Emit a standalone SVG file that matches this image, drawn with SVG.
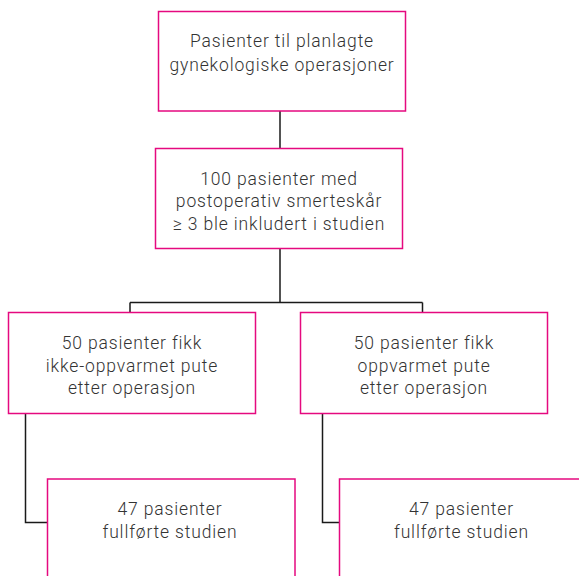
<svg xmlns="http://www.w3.org/2000/svg" width="579" height="576" viewBox="0 0 579 576">
<style>
.box{fill:#fff;stroke:#e5097f;stroke-width:1.5}
.t{font-family:Roboto,"Liberation Sans",sans-serif;font-size:17.5px;font-weight:300;fill:#333;text-anchor:middle;letter-spacing:0.85px}
.c{fill:none;stroke:#1a1a1a;stroke-width:1.5}
</style>
<rect width="579" height="576" fill="#fff"/>
<g id="connectors">
<path class="c" d="M280 111V148.5"/>
<path class="c" d="M280 248.5V302.5M130 302.5H422.5M130 302.5V312.5M422.5 302.5V312.5"/>
<path class="c" d="M25.5 413.5V522.5H47.5"/>
<path class="c" d="M322.5 413.5V522.5H339.5"/>
</g>
<g id="n1">
<rect class="box" x="158.5" y="11.5" width="247" height="99.5"/>
<text class="t" x="282" y="47">Pasienter til planlagte</text>
<text class="t" x="282" y="71">gynekologiske operasjoner</text>
</g>
<g id="n2">
<rect class="box" x="155.5" y="148.5" width="247" height="100"/>
<text class="t" x="279" y="184.5">100 pasienter med</text>
<text class="t" x="279" y="207">postoperativ smerteskår</text>
<text class="t" x="279" y="230">≥ 3 ble inkludert i studien</text>
</g>
<g id="n3">
<rect class="box" x="8.5" y="312.5" width="247" height="101"/>
<text class="t" x="132" y="348.5">50 pasienter fikk</text>
<text class="t" x="132" y="371.5">ikke-oppvarmet pute</text>
<text class="t" x="132" y="393.5">etter operasjon</text>
</g>
<g id="n4">
<rect class="box" x="300.5" y="312.5" width="247" height="101"/>
<text class="t" x="424" y="348.5">50 pasienter fikk</text>
<text class="t" x="424" y="371.5">oppvarmet pute</text>
<text class="t" x="424" y="393.5">etter operasjon</text>
</g>
<g id="n5">
<rect class="box" x="47.5" y="479" width="247.5" height="110"/>
<text class="t" x="170" y="515">47 pasienter</text>
<text class="t" x="170" y="538">fullførte studien</text>
</g>
<g id="n6">
<rect class="box" x="339.5" y="479" width="260" height="110"/>
<text class="t" x="461.5" y="515">47 pasienter</text>
<text class="t" x="461.5" y="538">fullførte studien</text>
</g>
</svg>
